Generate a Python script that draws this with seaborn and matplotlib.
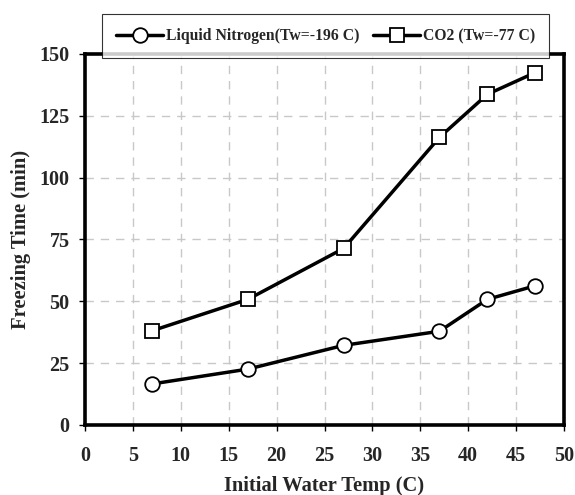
import matplotlib
import pandas as pd
import seaborn as sns

matplotlib.use("Agg")
import matplotlib.pyplot as plt

# values
water_temp = [7, 17, 27, 37, 42, 47]
liquid_nitrogen = [16.6, 22.6, 32.2, 37.9, 50.8, 56.3]
co2 = [38.1, 50.8, 71.4, 116.3, 133.7, 142.5]
series_names = ["Liquid Nitrogen(Tw=-196 C)", "CO2 (Tw=-77 C)"]
x_ticks = list(range(0, 55, 5))
y_ticks = list(range(0, 175, 25))

df = pd.DataFrame({
    "temp": water_temp * 2,
    "time": liquid_nitrogen + co2,
    "series": [series_names[0]] * len(water_temp) + [series_names[1]] * len(water_temp),
})

sns.set_theme(style="white")
plt.rcParams["font.family"] = ["Liberation Serif", "DejaVu Serif"]
plt.rcParams["font.weight"] = "bold"

fig = plt.figure(figsize=(5.75, 4.95), dpi=100)
ax = fig.add_axes([85 / 575, 1 - 425 / 495, 479 / 575, 371 / 495])

sns.lineplot(
    data=df, x="temp", y="time", style="series", markers=["o", "s"],
    dashes=False, color="black", linewidth=2.5, markersize=10.5,
    markerfacecolor="white", markeredgecolor="black", markeredgewidth=1.3,
    ax=ax, legend=True,
)

ax.set_xlim(0, 50)
ax.set_ylim(0, 150)
ax.set_xticks(x_ticks)
ax.set_yticks(y_ticks)
ax.grid(True, color="#c8c8c8", linestyle=(0, (6, 5)), linewidth=1.0)
for side in ["left", "bottom", "right", "top"]:
    ax.spines[side].set_color("black")
    ax.spines[side].set_linewidth(2.6)
ax.tick_params(axis="both", direction="out", length=4, width=1, color="black",
               labelsize=14.5, pad=7, bottom=True, left=True)
ax.tick_params(axis="x", pad=11)
for lbl in ax.get_xticklabels() + ax.get_yticklabels():
    lbl.set_fontweight("bold")

ax.set_xlabel("Initial Water Temp (C)", fontsize=14.8, fontweight="bold", labelpad=7)
ax.set_ylabel("Freezing Time (min)", fontsize=14.8, fontweight="bold", labelpad=6)

handles, labels = ax.get_legend_handles_labels()
leg = ax.legend(
    handles, labels, ncol=2, loc="upper left",
    bbox_to_anchor=(102 / 575, 1 - 14 / 495),
    bbox_transform=fig.transFigure,
    prop={"weight": "bold", "size": 11.3, "family": "Liberation Serif"},
    frameon=True, fancybox=False, handlelength=3.0, handletextpad=0.15,
    columnspacing=0.9, borderaxespad=0, borderpad=0.9,
)
leg.get_frame().set_edgecolor("black")
leg.get_frame().set_linewidth(0.8)
leg.set_zorder(10)

fig.savefig("out.png", dpi=100)
plt.close(fig)
